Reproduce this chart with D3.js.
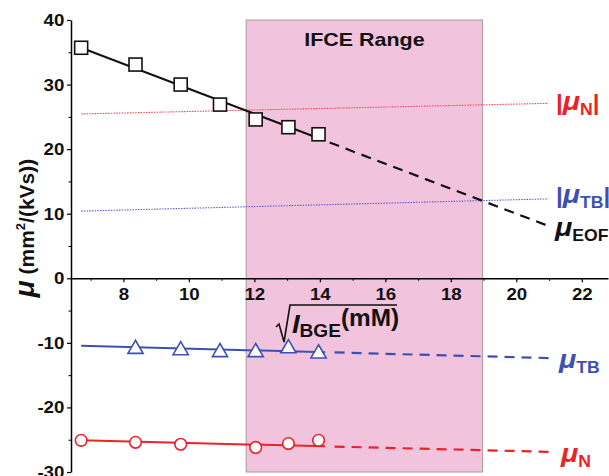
<!DOCTYPE html>
<html>
<head>
<meta charset="utf-8">
<script src="https://cdn.jsdelivr.net/npm/d3@7"></script>
<style>
  body { margin: 0; background: #fff; }
  text { font-family: "Liberation Sans", Arial, sans-serif; }
</style>
</head>
<body>
<svg></svg>
<script>
// Data
const xTicks = [8, 10, 12, 14, 16, 18, 20, 22];
const yTicks = [-30, -20, -10, 0, 10, 20, 30, 40];

const sqrtI_EOF = [6.71, 8.37, 9.75, 10.95, 12.04, 13.04, 13.96];
const muEOF = [35.7, 33.1, 30.0, 26.9, 24.6, 23.4, 22.3];

const sqrtI_TB = [8.37, 9.75, 10.95, 12.04, 13.04, 13.96];
const muTB = [-10.8, -11.0, -11.3, -11.3, -10.7, -11.5];

const sqrtI_N = [6.71, 8.37, 9.75, 12.04, 13.04, 13.96];
const muN = [-25.1, -25.4, -25.7, -26.2, -25.6, -25.1];

// linear fits: [intercept, slope]
const fitEOF = [48.68, -1.934];
const fitTB = [-9.58, -0.132];
const fitN = [-24.27, -0.124];
const fitAbsTB = [9.51, 0.133];
const fitAbsN = [24.68, 0.115];

const ifceRange = [11.75, 18.97];

const width = 609, height = 476;
const red = "#ec2227", blue = "#3c50b4";

const svg = d3.select("svg")
   .attr("width", width)
   .attr("height", height);

const x = d3.scaleLinear().domain([6.4, 22.8]).range([71, 608]);
const y = d3.scaleLinear().domain([-30, 40]).range([472, 20]);

const fitLine = (fit, x0, x1) => [[x0, fit[0] + fit[1] * x0], [x1, fit[0] + fit[1] * x1]];
const line = d3.line().x(d => x(d[0])).y(d => y(d[1]));

// IFCE range box
svg.append("rect")
   .attr("x", x(ifceRange[0]))
   .attr("y", y(40))
   .attr("width", x(ifceRange[1]) - x(ifceRange[0]))
   .attr("height", y(-30) - y(40))
   .attr("fill", "#f1c3dd")
   .attr("stroke", "#a8979f")
   .attr("stroke-width", 1);

svg.append("text")
   .attr("transform", `translate(${(x(ifceRange[0]) + x(ifceRange[1])) / 2},46) scale(1.16,1)`)
   .attr("text-anchor", "middle")
   .attr("font-size", 18.5)
   .attr("font-weight", "bold")
   .attr("fill", "#111")
   .text("IFCE Range");

// Y axis
const yAxis = svg.append("g")
   .attr("transform", `translate(${x(6.4)},0)`)
   .call(d3.axisLeft(y).tickValues(yTicks).tickSize(4).tickSizeOuter(0).tickPadding(2)
      .tickFormat(d => String(d)));
yAxis.select(".domain").attr("stroke-width", 1.5);
yAxis.selectAll("text").attr("font-size", 17).attr("font-weight", "bold").attr("fill", "#111")
   .attr("transform", "scale(1.1,1)")
   .style("font-family", "'Liberation Sans', Arial, sans-serif");
yAxis.selectAll(".tick line").attr("stroke-width", 1.2);
svg.append("g")
   .attr("transform", `translate(${x(6.4)},0)`)
   .call(d3.axisLeft(y).tickValues(d3.range(-25, 40, 10)).tickSize(2.5).tickFormat(""))
   .call(g => g.select(".domain").remove());

// X axis at zero
const xAxis = svg.append("g")
   .attr("transform", `translate(0,${y(0)})`)
   .call(d3.axisBottom(x).tickValues(xTicks).tickSize(4).tickSizeOuter(0).tickPadding(6));
xAxis.select(".domain").attr("stroke-width", 1.5);
xAxis.selectAll("text").attr("font-size", 17).attr("font-weight", "bold").attr("fill", "#111")
   .attr("transform", "scale(1.1,1)")
   .style("font-family", "'Liberation Sans', Arial, sans-serif");
xAxis.selectAll(".tick line").attr("stroke-width", 1.2);
svg.append("g")
   .attr("transform", `translate(0,${y(0)})`)
   .call(d3.axisBottom(x).tickValues(d3.range(7, 23, 2)).tickSize(2.5).tickFormat(""))
   .call(g => g.select(".domain").remove());

// dotted absolute value lines
svg.append("path")
   .attr("d", line(fitLine(fitAbsN, 6.71, 20.98)))
   .attr("stroke", "#f04a55").attr("stroke-width", 1.1)
   .attr("stroke-dasharray", "1.5,1.2").attr("fill", "none");
svg.append("path")
   .attr("d", line(fitLine(fitAbsTB, 6.71, 20.98)))
   .attr("stroke", "#5a5fcc").attr("stroke-width", 1.1)
   .attr("stroke-dasharray", "1.5,1.2").attr("fill", "none");

// fit lines: solid and dashed extrapolation
const fits = [
   { fit: fitEOF, color: "#111", solid: [6.71, 14.0], dashed: [14.3, 20.97] },
   { fit: fitTB, color: blue, solid: [6.71, 14.16], dashed: [14.45, 21.18] },
   { fit: fitN, color: red, solid: [6.71, 14.16], dashed: [14.45, 21.18] }
];
fits.forEach(f => {
   svg.append("path")
      .attr("d", line(fitLine(f.fit, f.solid[0], f.solid[1])))
      .attr("stroke", f.color).attr("stroke-width", 2).attr("fill", "none");
   svg.append("path")
      .attr("d", line(fitLine(f.fit, f.dashed[0], f.dashed[1])))
      .attr("stroke", f.color).attr("stroke-width", 2.2)
      .attr("stroke-dasharray", "10,7").attr("fill", "none");
});

// markers
svg.selectAll(".sq")
   .data(d3.zip(sqrtI_EOF, muEOF))
   .enter().append("rect")
   .attr("x", d => x(d[0]) - 6.5)
   .attr("y", d => y(d[1]) - 6.5)
   .attr("width", 13).attr("height", 13)
   .attr("fill", "#fff").attr("stroke", "#111").attr("stroke-width", 1.6);

svg.selectAll(".tri")
   .data(d3.zip(sqrtI_TB, muTB))
   .enter().append("path")
   .attr("d", d3.symbol(d3.symbolTriangle, 100))
   .attr("transform", d => `translate(${x(d[0])},${y(d[1]) + 1})`)
   .attr("fill", "#fff").attr("stroke", blue).attr("stroke-width", 1.6);

svg.selectAll(".circ")
   .data(d3.zip(sqrtI_N, muN))
   .enter().append("circle")
   .attr("cx", d => x(d[0]))
   .attr("cy", d => y(d[1]))
   .attr("r", 5.8)
   .attr("fill", "#fff").attr("stroke", red).attr("stroke-width", 1.6);

// series labels
function muLabel(px, py, sub, color, bars) {
   const t = svg.append("text")
      .attr("transform", `translate(${px},${py}) scale(1.1,1)`)
      .attr("fill", color).attr("font-weight", "bold").attr("font-size", 22);
   if (bars) t.append("tspan").text("|");
   t.append("tspan").attr("font-style", "italic").attr("font-size", 26).text("μ");
   t.append("tspan").attr("font-size", 16).attr("dy", 5).text(sub);
   if (bars) t.append("tspan").attr("dy", -5).text("|");
}
muLabel(556, 110, "N", red, true);
muLabel(556, 203, "TB", blue, true);
muLabel(555, 236, "EOF", "#111", false);
muLabel(559, 368, "TB", blue, false);
muLabel(561, 462, "N", red, false);

// y axis title
const yt = svg.append("text")
   .attr("transform", "translate(34,228) rotate(-90)")
   .attr("text-anchor", "middle")
   .attr("font-weight", "bold").attr("font-size", 21).attr("fill", "#111");
yt.append("tspan").attr("font-style", "italic").attr("font-size", 28).text("μ");
yt.append("tspan").text(" (mm");
yt.append("tspan").attr("font-size", 13).attr("dy", -9).text("2");
yt.append("tspan").attr("dy", 9).text("/(kVs))");

// x axis title with radical
const xt = svg.append("g").attr("transform", "translate(276,305)");
xt.append("path")
   .attr("d", "M0,22 L3,19 L8,37 L14,0 L121,0")
   .attr("fill", "none").attr("stroke", "#111").attr("stroke-width", 1.6);
const xl = xt.append("text").attr("font-weight", "bold").attr("fill", "#111")
   .attr("transform", "scale(1.06,1)");
xl.append("tspan").attr("x", 15).attr("y", 28).attr("font-style", "italic").attr("font-size", 26).text("I");
xl.append("tspan").attr("y", 32).attr("font-size", 18).text("BGE");
xl.append("tspan").attr("y", 21).attr("font-size", 23).text("(mM)");
</script>
</body>
</html>
